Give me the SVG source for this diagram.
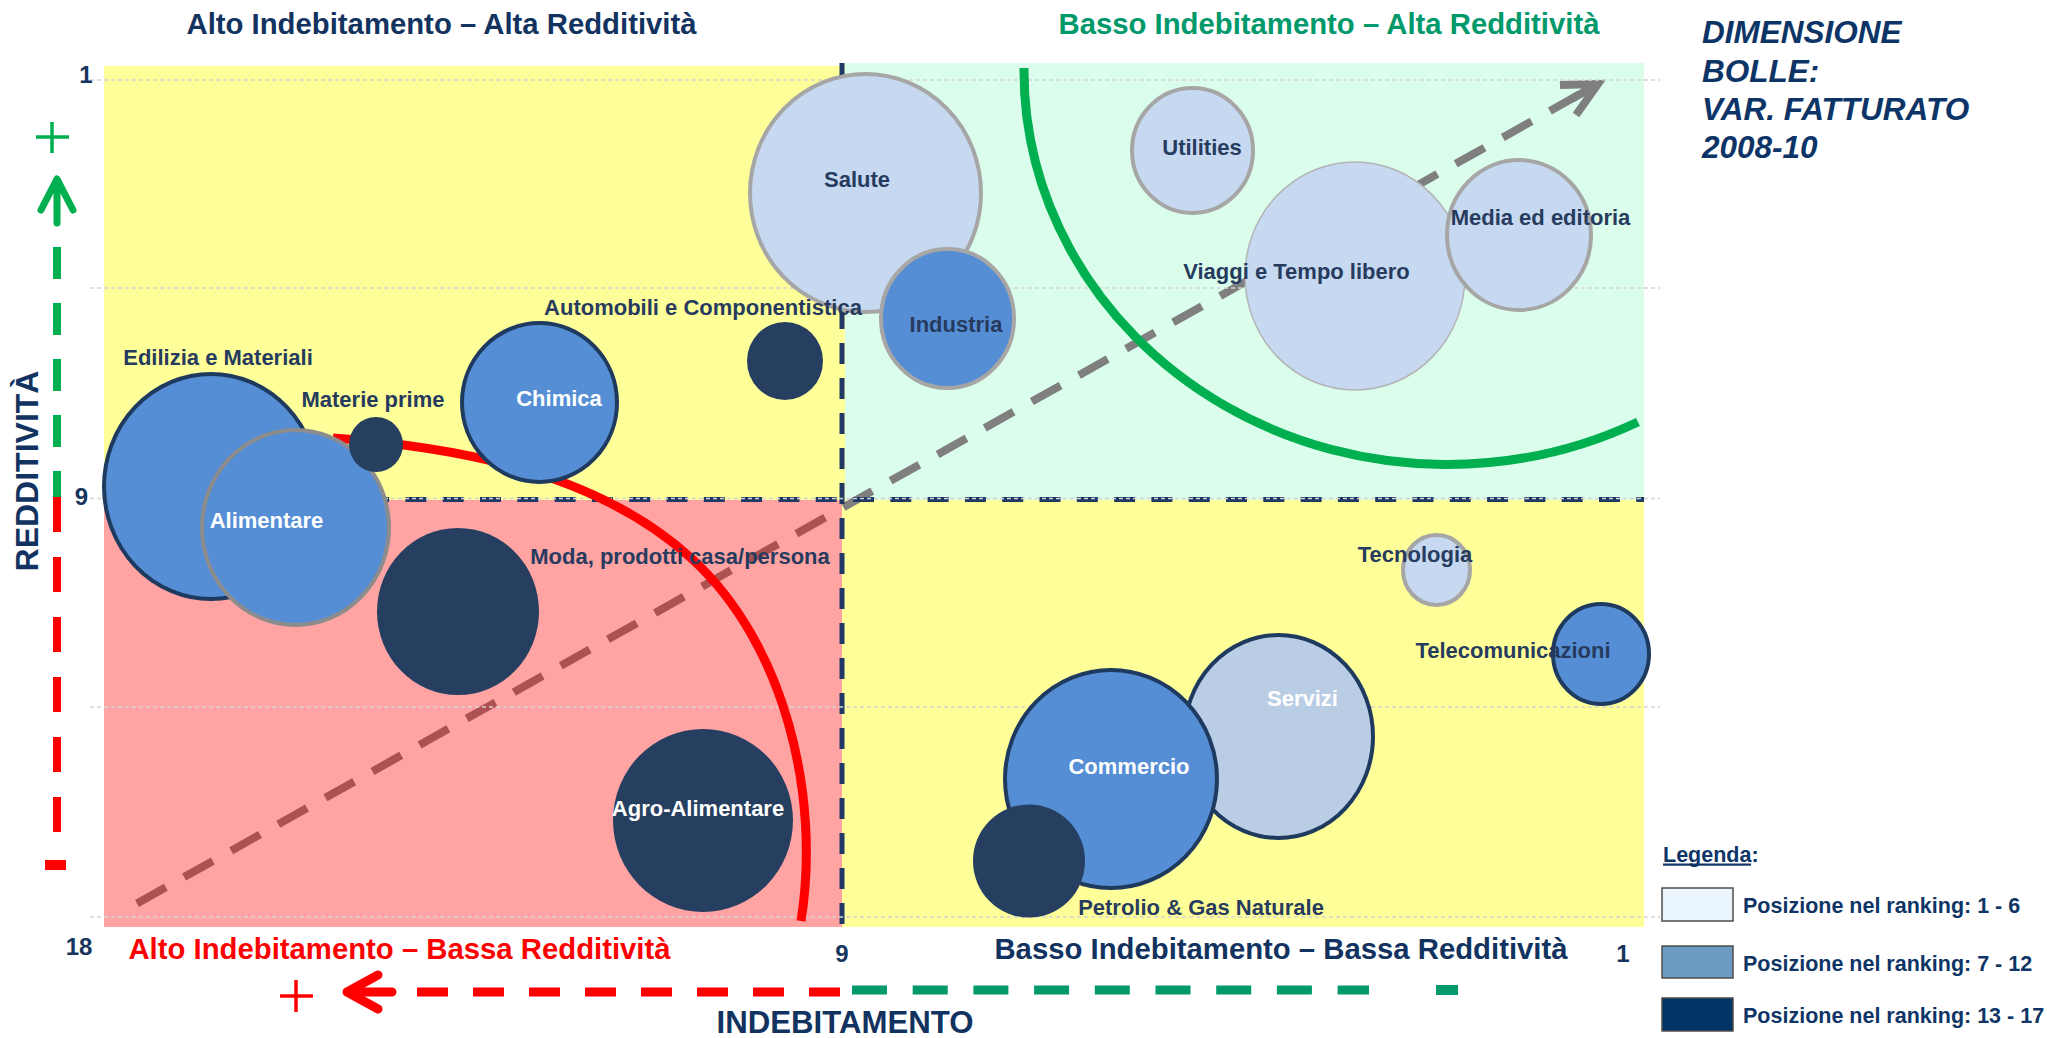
<svg xmlns="http://www.w3.org/2000/svg" width="2047" height="1038" viewBox="0 0 2047 1038">
<style>
text{font-family:"Liberation Sans",Arial,sans-serif;font-weight:bold}
.lbl{font-size:22px;fill:#263b5e;text-anchor:middle}
.w{fill:#ffffff}
.ttl{font-size:29.3px;text-anchor:middle}
.ax{font-size:24px;fill:#17365d;text-anchor:middle}
.light{fill:#c6d9f1;stroke:#a6a6a6;stroke-width:4}
.med{fill:#558ed5}
.dark{fill:#263f61}
.sn{stroke:#1f3a5f;stroke-width:4}
.sg{stroke:#a6a6a6;stroke-width:4}
.grid{stroke:#d4d4d4;stroke-width:1.3;stroke-dasharray:4 3;fill:none}
.leg{font-size:21.5px;fill:#0e3566}
</style>
<rect width="2047" height="1038" fill="#ffffff"/>
<g id="quadrants">
<rect x="104" y="66" width="741" height="434" fill="#ffff99"/>
<rect x="845" y="63" width="799" height="437" fill="#dbfdeb"/>
<rect x="842" y="500" width="802" height="427" fill="#ffff99"/>
</g>
<g id="connectors">
<line x1="137" y1="903.5" x2="1598" y2="84" stroke="#7f7f7f" stroke-width="8" stroke-dasharray="33 21"/>
<path d="M1572 98.7 L1598 84 M1560 85 L1598 84 L1576 115" stroke="#7f7f7f" stroke-width="8" fill="none"/>
<rect x="104" y="500" width="738" height="427" fill="#ff0000" fill-opacity="0.36"/>
<line x1="107" y1="499.5" x2="1644" y2="499.5" stroke="#1f3864" stroke-width="5" stroke-dasharray="21 16.3"/>
<line x1="842" y1="63" x2="842" y2="927" stroke="#1f3864" stroke-width="5" stroke-dasharray="21 14"/>
<g class="grid">
<line x1="90" y1="80" x2="1660" y2="80"/>
<line x1="90" y1="288" x2="1660" y2="288"/>
<line x1="90" y1="498.5" x2="1660" y2="498.5"/>
<line x1="90" y1="707" x2="1660" y2="707"/>
<line x1="90" y1="917" x2="1660" y2="917"/>
</g>
<path d="M1024 68 A423 394 0 0 0 1638 422" stroke="#00b050" stroke-width="9" fill="none"/>
<path d="M333 438 C459 447 598 473 691 558 C785 643 821 796 801 921" stroke="#ff0000" stroke-width="9" fill="none"/>
</g>
<g id="axes">
<path d="M36 137 H69 M52 122 V153" stroke="#00b050" stroke-width="3.5"/>
<path d="M41 210 L57 179 L73 210 M57 182 V223" stroke="#00b050" stroke-width="7" fill="none" stroke-linecap="round" stroke-linejoin="round"/>
<line x1="57" y1="247" x2="57" y2="503" stroke="#00b050" stroke-width="8" stroke-dasharray="32 24"/>
<line x1="57" y1="497" x2="57" y2="834" stroke="#ff0000" stroke-width="8" stroke-dasharray="35 25"/>
<rect x="45" y="860" width="21" height="10" fill="#ff0000"/>
<path d="M280 996 H313 M296 980 V1012" stroke="#ff0000" stroke-width="3.5"/>
<path d="M378 975 L347 992 L378 1009 M350 992 H392" stroke="#ff0000" stroke-width="9" fill="none" stroke-linecap="round" stroke-linejoin="round"/>
<line x1="417" y1="992" x2="840" y2="992" stroke="#ff0000" stroke-width="9" stroke-dasharray="31 25"/>
<line x1="852" y1="990" x2="1369" y2="990" stroke="#00996b" stroke-width="9" stroke-dasharray="35 25.7"/>
<rect x="1436" y="985" width="22" height="10" fill="#00996b"/>
<text class="ax" x="86" y="83">1</text>
<text class="ax" x="81.5" y="505">9</text>
<text class="ax" x="79" y="955">18</text>
<text class="ax" x="842" y="962">9</text>
<text class="ax" x="1623" y="962">1</text>
<text transform="translate(38 471) rotate(-90)" font-size="32" fill="#12335f" text-anchor="middle">REDDITIVITÀ</text>
<text x="845" y="1033" font-size="31.2" fill="#12335f" text-anchor="middle">INDEBITAMENTO</text>
</g>
<g id="titles">
<text class="ttl" x="441.5" y="34" fill="#12335f">Alto Indebitamento – Alta Redditività</text>
<text class="ttl" x="1329" y="34" fill="#00996b">Basso Indebitamento – Alta Redditività</text>
<text class="ttl" x="399.5" y="959" fill="#ff0000">Alto Indebitamento – Bassa Redditività</text>
<text class="ttl" x="1281" y="959" fill="#12335f">Basso Indebitamento – Bassa Redditività</text>
<g font-size="31.5" font-style="italic" fill="#0d3466">
<text x="1702" y="43">DIMENSIONE</text>
<text x="1702" y="82">BOLLE:</text>
<text x="1702" y="120">VAR. FATTURATO</text>
<text x="1702" y="158">2008-10</text>
</g>
</g>
<g id="node-salute"><ellipse class="light" cx="865.5" cy="193" rx="115.5" ry="119"/><text class="lbl" x="857" y="187">Salute</text></g>
<g id="node-industria"><ellipse class="med sg" cx="947.5" cy="318.5" rx="66.5" ry="69.5"/><text class="lbl" x="956" y="332">Industria</text></g>
<g id="node-utilities"><ellipse class="light" cx="1192.5" cy="150.5" rx="60.5" ry="62.5"/><text class="lbl" x="1202" y="155">Utilities</text></g>
<g id="node-viaggi"><ellipse cx="1355" cy="276" rx="110" ry="114" fill="#c6d9f1" stroke="#b4b4b4" stroke-width="1.5"/><text class="lbl" x="1296.5" y="279">Viaggi e Tempo libero</text></g>
<g id="node-media"><ellipse class="light" cx="1519" cy="235" rx="72" ry="75"/><text class="lbl" x="1540.5" y="225">Media ed editoria</text></g>
<g id="node-automobili"><ellipse class="dark" cx="785" cy="361" rx="38" ry="39"/><text class="lbl" x="703" y="315">Automobili e Componentistica</text></g>
<g id="node-chimica"><ellipse class="med sn" cx="539.5" cy="402.5" rx="77.5" ry="79.5"/><text class="lbl w" x="559" y="406">Chimica</text></g>
<g id="node-edilizia"><ellipse class="med sn" cx="211" cy="486.5" rx="107" ry="112.5"/><text class="lbl" x="218" y="365">Edilizia  e Materiali</text></g>
<g id="node-alimentare"><ellipse class="med" cx="295.5" cy="527.5" rx="93.5" ry="97.5" stroke="#8c8c8c" stroke-width="4"/><text class="lbl w" x="266.5" y="528">Alimentare</text></g>
<g id="node-materie"><ellipse class="dark" cx="376" cy="444.5" rx="27" ry="27.5"/><text class="lbl" x="373" y="407">Materie prime</text></g>
<g id="node-moda"><ellipse class="dark" cx="458" cy="611.5" rx="81" ry="83.5"/><text class="lbl" x="680" y="564">Moda, prodotti casa/persona</text></g>
<g id="node-agro"><ellipse class="dark" cx="703" cy="820.5" rx="90" ry="91.5"/><text class="lbl w" x="698" y="816">Agro-Alimentare</text></g>
<g id="node-tecnologia"><ellipse class="light" cx="1436.5" cy="570" rx="33.5" ry="35"/><text class="lbl" x="1415" y="562">Tecnologia</text></g>
<g id="node-telecom"><ellipse class="med sn" cx="1601" cy="654" rx="48" ry="50"/><text class="lbl" x="1513" y="658">Telecomunicazioni</text></g>
<g id="node-servizi"><ellipse class="sn" cx="1278.5" cy="736.5" rx="94.5" ry="101.5" fill="#b9cde5"/><text class="lbl w" x="1302.5" y="706">Servizi</text></g>
<g id="node-commercio"><ellipse class="med sn" cx="1111" cy="779" rx="106" ry="109"/><text class="lbl w" x="1129" y="774">Commercio</text></g>
<g id="node-petrolio"><ellipse class="dark" cx="1029" cy="861" rx="56" ry="56.6"/><text class="lbl" x="1201" y="915">Petrolio &amp; Gas Naturale</text></g>
<g id="legend">
<text class="leg" x="1663" y="862">Legenda:</text>
<rect x="1663" y="863.5" width="88" height="2.2" fill="#0e3566"/>
<rect x="1662" y="888" width="71" height="33" fill="#eaf5fd" stroke="#4d4d4d" stroke-width="1.5"/>
<text class="leg" x="1743" y="913">Posizione nel ranking: 1 - 6</text>
<rect x="1662" y="946" width="71" height="32" fill="#6b9bc3" stroke="#4d4d4d" stroke-width="1.5"/>
<text class="leg" x="1743" y="971">Posizione nel ranking: 7 - 12</text>
<rect x="1662" y="998" width="71" height="33" fill="#003366" stroke="#4d4d4d" stroke-width="1.5"/>
<text class="leg" x="1743" y="1023">Posizione nel ranking: 13 - 17</text>
</g>
</svg>
